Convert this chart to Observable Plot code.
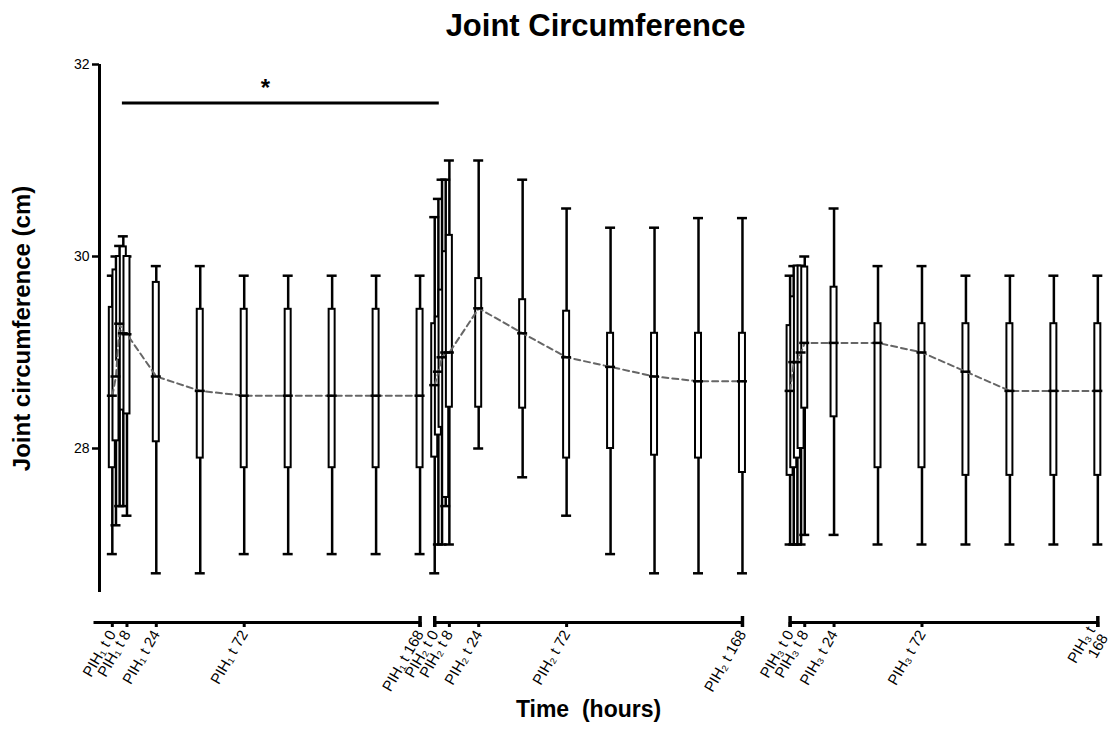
<!DOCTYPE html>
<html><head><meta charset="utf-8">
<script src="https://cdn.jsdelivr.net/npm/d3@7"></script>
<script src="https://cdn.jsdelivr.net/npm/@observablehq/plot@0.6"></script>
<style>body{margin:0;background:#fff;font-family:"Liberation Sans",Arial,sans-serif}</style>
</head><body><div id="chart"></div>
<script>
// ---- data ----
const phases = ["PIH₁", "PIH₂", "PIH₃"];
const hours = [0, 2, 4, 6, 8, 24, 48, 72, 96, 120, 144, 168];
const tickHours = [0, 8, 24, 72, 168];
const yTicks = [28, 30, 32];

const minVals = [
  [26.9, 27.2, 27.4, 27.4, 27.3, 26.7, 26.7, 26.9, 26.9, 26.9, 26.9, 26.9],
  [26.7, 27.0, 27.0, 27.4, 27.0, 28.0, 27.7, 27.3, 26.9, 26.7, 26.7, 26.7],
  [27.0, 27.0, 27.0, 27.0, 27.1, 27.1, 27.0, 27.0, 27.0, 27.0, 27.0, 27.0]
];
const q1Vals = [
  [27.8, 28.08, 28.92, 28.4, 28.36, 28.07, 27.9, 27.8, 27.8, 27.8, 27.8, 27.8],
  [27.91, 28.14, 28.22, 27.49, 28.43, 28.43, 28.42, 27.9, 28.0, 27.93, 27.9, 27.75],
  [27.72, 27.8, 27.9, 28.0, 28.42, 28.33, 27.8, 27.8, 27.72, 27.72, 27.72, 27.72]
];
const medVals = [
  [28.55, 28.75, 29.3, 29.2, 29.19, 28.75, 28.6, 28.55, 28.55, 28.55, 28.55, 28.55],
  [28.66, 28.8, 28.95, 29.0, 29.0, 29.46, 29.2, 28.95, 28.85, 28.75, 28.7, 28.7],
  [28.6, 28.9, 28.9, 29.0, 29.1, 29.1, 29.1, 29.0, 28.8, 28.6, 28.6, 28.6]
];
const q3Vals = [
  [29.47, 29.86, 30.0, 30.1, 30.0, 29.73, 29.45, 29.45, 29.45, 29.45, 29.45, 29.45],
  [29.3, 29.37, 29.65, 30.05, 30.22, 29.77, 29.55, 29.43, 29.2, 29.2, 29.2, 29.2],
  [29.28, 29.58, 29.9, 29.9, 29.89, 29.68, 29.3, 29.3, 29.3, 29.3, 29.3, 29.3]
];
const maxVals = [
  [29.8, 30.0, 30.11, 30.21, 30.0, 29.9, 29.9, 29.8, 29.8, 29.8, 29.8, 29.8],
  [30.41, 30.6, 30.8, 30.8, 31.0, 31.0, 30.8, 30.5, 30.3, 30.3, 30.4, 30.4],
  [29.8, 29.9, 29.9, 29.9, 30.0, 30.5, 29.9, 29.9, 29.8, 29.8, 29.8, 29.8]
];

// ---- layout of the broken time axis (hours offset of each segment) ----
const segOffset = [0, 176, 370];
const segStart = [-10, 0, 0];
const segEnd = 168;

const rows = [];
phases.forEach((p, pi) => hours.forEach((h, hi) => rows.push({
  phase: p, pos: segOffset[pi] + h,
  min: minVals[pi][hi], q1: q1Vals[pi][hi], med: medVals[pi][hi], q3: q3Vals[pi][hi], max: maxVals[pi][hi]
})));

const segments = phases.map((p, pi) => ({x1: segOffset[pi] + segStart[pi], x2: segOffset[pi] + segEnd}));
const endTicks = [segOffset[0] + segEnd, segOffset[1], segOffset[1] + segEnd, segOffset[2], segOffset[2] + segEnd];

const xTicks = [];
phases.forEach((p, pi) => tickHours.forEach(h => xTicks.push({
  pos: segOffset[pi] + h,
  label: (pi === 2 && h === 168) ? `${p} t\n${h}` : `${p} t ${h}`
})));

const font = "Liberation Sans, Arial, sans-serif";
const yMin = 26.5, yMax = 32, xLeft = -7;

const chart = Plot.plot({
  width: 1110,
  height: 729,
  marginLeft: 99,
  marginRight: 9,
  marginTop: 64,
  marginBottom: 137,
  style: {fontFamily: font, fontSize: "14px", background: "white", color: "black"},
  x: {domain: [xLeft, 540], axis: null},
  y: {domain: [yMin, yMax], axis: null},
  marks: [
    // y axis
    Plot.ruleX([xLeft], {y1: yMin, y2: yMax, strokeWidth: 3}),
    Plot.ruleY(yTicks, {x1: xLeft, x2: xLeft, y: d => d, insetLeft: -7, strokeWidth: 2.5}),
    Plot.text(yTicks, {x: xLeft, y: d => d, text: d => String(d), dx: -10, textAnchor: "end", fontSize: 14}),
    // broken x axis
    Plot.ruleY(segments, {x1: "x1", x2: "x2", y: yMin, dy: 30, strokeWidth: 3}),
    Plot.ruleX(xTicks, {x: "pos", y1: yMin, y2: yMin, insetBottom: -5, dy: 30, strokeWidth: 3}),
    Plot.ruleX(endTicks, {y1: yMin, y2: yMin, insetTop: -6, insetBottom: -5, dy: 30, strokeWidth: 3.5}),
    Plot.text(xTicks, {x: "pos", y: yMin, text: "label", dy: 39, rotate: -60, textAnchor: "end", lineAnchor: "middle", fontSize: 15}),
    // whiskers
    Plot.ruleX(rows, {x: "pos", y1: "min", y2: "max", strokeWidth: 2.5}),
    Plot.ruleY(rows, {x1: "pos", x2: "pos", y: "min", insetLeft: -5, insetRight: -5, strokeWidth: 2.5}),
    Plot.ruleY(rows, {x1: "pos", x2: "pos", y: "max", insetLeft: -5, insetRight: -5, strokeWidth: 2.5}),
    // boxes
    Plot.rect(rows, {x1: "pos", x2: "pos", y1: "q1", y2: "q3", insetLeft: -3, insetRight: -3,
      fill: "white", stroke: "black", strokeWidth: 2}),
    // median trend
    Plot.line(rows, {x: "pos", y: "med", z: "phase", stroke: "#666", strokeWidth: 2, strokeDasharray: "6,4"}),
    Plot.ruleY(rows, {x1: "pos", x2: "pos", y: "med", insetLeft: -5, insetRight: -5, strokeWidth: 2.5}),
    // significance bracket
    Plot.ruleY([31.6], {x1: 5.5, x2: 178.5, strokeWidth: 3}),
    Plot.text(["*"], {x: 83.6, y: 31.75, fontSize: 24, fontWeight: "bold"}),
    // titles
    Plot.text(["Joint Circumference"], {frameAnchor: "top", dx: -5, dy: -51, fontSize: 31, fontWeight: "bold"}),
    Plot.text(["Joint circumference (cm)"], {frameAnchor: "left", textAnchor: "middle", dx: -77, rotate: -90, fontSize: 24, fontWeight: "bold"}),
    Plot.text(["Time\u00a0 (hours)"], {frameAnchor: "bottom", dx: -12, dy: 124, fontSize: 23, fontWeight: "bold"})
  ]
});
document.getElementById("chart").appendChild(chart);
</script>
</body></html>
